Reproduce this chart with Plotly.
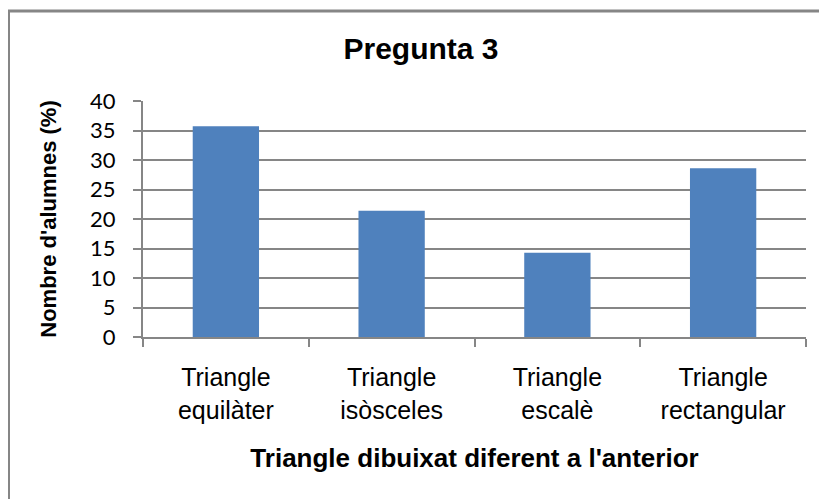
# -*- coding: utf-8 -*-
import plotly.graph_objects as go

# | data section |
categories = [
    "Triangle<br>equilàter",
    "Triangle<br>isòsceles",
    "Triangle<br>escalè",
    "Triangle<br>rectangular",
]
percentages = [35.7, 21.4, 14.3, 28.6]
y_ticks = [0, 5, 10, 15, 20, 25, 30, 35, 40]

chart_title = "Pregunta 3"
x_title = "Triangle dibuixat diferent a l'anterior"
y_title = "Nombre d'alumnes (%)"

# | layout section |
# the html body adds an 8px margin, so the figure is made 8px smaller
W, H = 819, 491
L, R, T, B = 135, 21, 93, 162
plot_w = W - L - R
plot_h = H - T - B
grey = "#868686"

# | graph section |
fig = go.Figure()

fig.add_trace(
    go.Bar(
        x=categories,
        y=percentages,
        marker={"color": "#4F81BD", "line": {"width": 0}},
        hoverinfo="skip",
    )
)

fig.update_layout(
    width=W,
    height=H,
    margin={"l": L, "r": R, "t": T, "b": B, "autoexpand": False},
    paper_bgcolor="white",
    plot_bgcolor="white",
    showlegend=False,
    bargap=0.6,
    title={
        "text": chart_title,
        "font": {"family": "Liberation Sans", "size": 30, "color": "black", "weight": "bold"},
        "x": 413 / W,
        "xanchor": "center",
        "xref": "container",
        "y": 1 - 40 / H,
        "yanchor": "middle",
        "yref": "container",
    },
    # outer chart frame, it runs past the right and bottom edges
    shapes=[
        {
            "type": "rect",
            "xref": "paper",
            "yref": "paper",
            "x0": (0.5 - L) / plot_w,
            "x1": 1.3,
            "y0": -1.0,
            "y1": (T + plot_h - 3) / plot_h,
            "line": {"color": grey, "width": 3},
            "layer": "below",
        }
    ],
)

fig.update_xaxes(
    automargin=False,
    showline=True,
    linecolor=grey,
    linewidth=2,
    ticks="outside",
    tickson="boundaries",
    ticklen=8,
    tickwidth=2,
    tickcolor=grey,
    showgrid=False,
    ticklabelstandoff=17,
    tickfont={"family": "Liberation Sans", "size": 25, "color": "black"},
    title={
        "text": x_title,
        "font": {"family": "Liberation Sans", "size": 26, "color": "black", "weight": "bold"},
        "standoff": 26,
    },
)

fig.update_yaxes(
    automargin=False,
    range=[0, 40],
    tickvals=y_ticks,
    showline=True,
    linecolor=grey,
    linewidth=2,
    ticks="outside",
    ticklen=8,
    tickwidth=2,
    tickcolor=grey,
    showgrid=True,
    gridcolor=grey,
    gridwidth=2,
    zeroline=False,
    ticklabelstandoff=13,
    tickfont={"family": "Lato", "size": 22, "color": "black"},
    title={
        "text": y_title,
        "font": {"family": "Liberation Sans", "size": 22, "color": "black", "weight": "bold"},
        "standoff": 27,
    },
)

fig.write_html("out.html")
